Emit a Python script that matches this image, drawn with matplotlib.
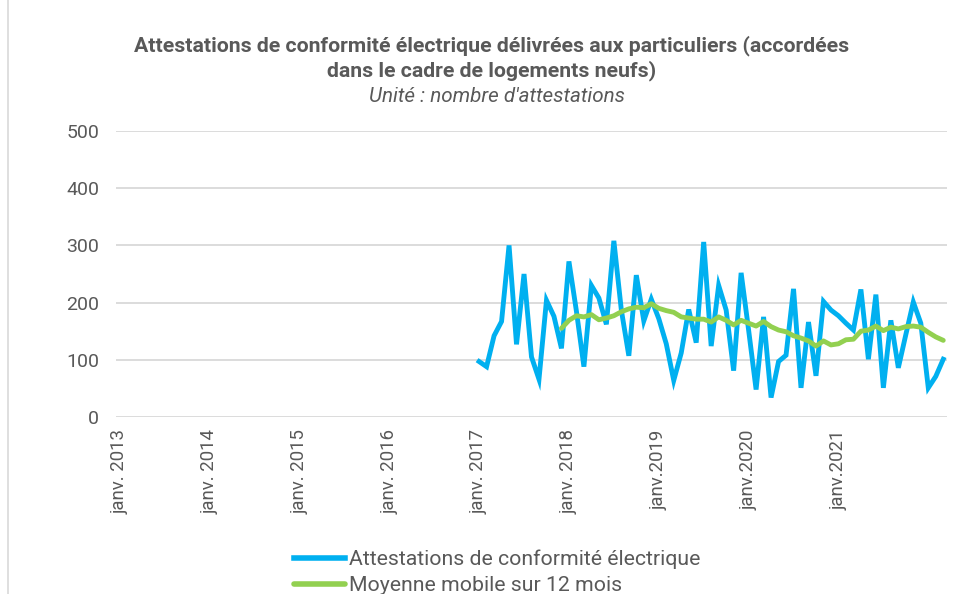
import matplotlib
matplotlib.use("Agg")
import matplotlib.pyplot as plt
import numpy as np
import pandas as pd
from matplotlib.lines import Line2D

plt.rcParams['font.family'] = ['Roboto', 'DejaVu Sans']

# ---------------- data ----------------
axis_start = "2013-01"
axis_end = "2022-03"
series_start = "2017-01"
ma_start = "2017-12"

attestations = [97, 88, 142, 167, 300, 127, 250, 105, 66, 204, 176, 120,
                272, 185, 88, 230, 208, 162, 308, 187, 107, 248, 168, 206,
                172, 128, 64, 112, 188, 130, 306, 124, 230, 187, 81, 252,
                152, 48, 175, 34, 97, 108, 224, 51, 166, 72, 202, 187,
                177, 164, 152, 223, 101, 214, 51, 169, 86, 144, 201, 164,
                51, 71, 101]

moyenne_mobile = [155,
                  169, 177, 175, 179, 170, 173, 177, 184, 189, 192, 191, 198,
                  190, 186, 183, 175, 173, 171, 171, 166, 175, 169, 161, 169,
                  164, 159, 167, 158, 152, 149, 142, 138, 133, 124, 133, 126,
                  128, 135, 136, 150, 152, 159, 151, 157, 154, 158, 159, 157,
                  148, 140, 134]

tick_months = ["2013-01", "2014-01", "2015-01", "2016-01", "2017-01",
               "2018-01", "2019-01", "2020-01", "2021-01"]
tick_labels = ["janv. 2013", "janv. 2014", "janv. 2015", "janv. 2016",
               "janv. 2017", "janv. 2018", "janv.2019", "janv.2020", "janv.2021"]

y_ticks = [0, 100, 200, 300, 400, 500]

title = "Attestations de conformité électrique délivrées aux particuliers (accordées"
title2 = "dans le cadre de logements neufs)"
subtitle = "Unité : nombre d'attestations"
label_a = "Attestations de conformité électrique"
label_m = "Moyenne mobile sur 12 mois"

# ---------------- positions ----------------
cats = pd.period_range(axis_start, axis_end, freq="M")
pos = {str(p): i for i, p in enumerate(cats)}
x_a = pos[series_start] + np.arange(len(attestations))
x_m = pos[ma_start] + np.arange(len(moyenne_mobile))
x_t = [pos[m] for m in tick_months]

blue = "#00B0F0"
green = "#92D050"
grey_txt = "#595959"
grid_c = "#D9D9D9"

fig = plt.figure(figsize=(9.66, 5.94), dpi=100)
ax = fig.add_axes([116 / 966, 1 - 417 / 594, (947 - 116) / 966, (417 - 131) / 594])

ax.plot(x_a, attestations, color=blue, lw=3.5, solid_joinstyle='miter', label=label_a, zorder=3)
ax.plot(x_m, moyenne_mobile, color=green, lw=3.5, solid_capstyle='round', label=label_m, zorder=4)

ax.set_xlim(-0.5, len(cats) - 0.5)
ax.set_ylim(0, 500)
ax.set_yticks(y_ticks)
ax.set_yticklabels([str(v) for v in y_ticks])
ax.set_xticks(x_t)
ax.set_xticklabels(tick_labels, rotation=90, ha='center', va='top')

ax.grid(axis='y', color=grid_c, lw=1.3)
ax.set_axisbelow(True)
for s in ax.spines.values():
    s.set_visible(False)
ax.tick_params(axis='both', length=0, colors=grey_txt)
ax.tick_params(axis='y', pad=12, labelsize=14)
ax.tick_params(axis='x', pad=9, labelsize=13.4)

fig.text(492 / 966, 1 - 46 / 594, title, ha='center', va='center',
         fontsize=15.3, fontweight='bold', color=grey_txt)
fig.text(492 / 966, 1 - 71 / 594, title2, ha='center', va='center',
         fontsize=15.3, fontweight='bold', color=grey_txt)
fig.text(497 / 966, 1 - 97 / 594, subtitle, ha='center', va='center',
         fontsize=14.9, fontstyle='italic', color=grey_txt)

leg = fig.legend(loc='upper center', bbox_to_anchor=(497 / 966, 1 - 539 / 594),
                 ncol=1, frameon=False, fontsize=15.3, handlelength=2.4,
                 handletextpad=0.2, labelspacing=0.32, borderpad=0)
for t in leg.get_texts():
    t.set_color(grey_txt)
for h in leg.get_lines():
    h.set_linewidth(4)

fig.add_artist(Line2D([8 / 966, 8 / 966], [0, 1], color=grid_c, lw=1.2))

fig.savefig("out.png", dpi=100, facecolor='white')
